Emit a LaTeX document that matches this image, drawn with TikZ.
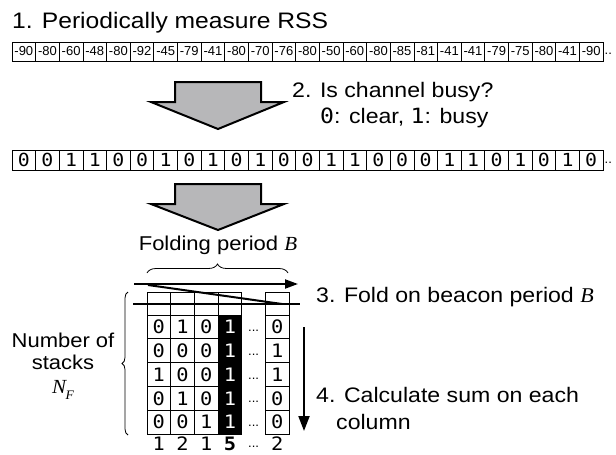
\documentclass[tikz,border=0pt]{standalone}
\usepackage{fontspec}
\setmainfont{Liberation Sans}[FakeStretch=1.1]
\newfontfamily\rssfont{Liberation Sans}
\newfontfamily\monof{DejaVu Sans Mono}[FakeStretch=1.1]
\newfontfamily\serifit{Liberation Serif}[FakeStretch=1.05]
\usetikzlibrary{decorations.pathreplacing,arrows.meta}
\definecolor{arrowgray}{RGB}{183,183,185}
\begin{document}
\begin{tikzpicture}[x=1pt,y=-1pt,
  rsscell/.style={draw, line width=0.7pt, minimum width=23.64pt, minimum height=19pt, inner sep=0pt, font=\rssfont\fontsize{13}{14}\selectfont},
  bitcell/.style={draw, line width=0.7pt, minimum width=23.64pt, minimum height=20pt, inner sep=0pt, font=\monof\fontsize{18}{19}\selectfont},
  gridcell/.style={draw, line width=0.8pt, minimum width=23.7pt, minimum height=23.8pt, inner sep=0pt, font=\monof\fontsize{18.5}{19}\selectfont},
  headcell/.style={draw, line width=0.8pt, minimum width=23.7pt, minimum height=23pt, inner sep=0pt},
  darkcell/.style={gridcell, fill=black, text=white},
  sumlabel/.style={inner sep=0pt, font=\monof\fontsize{18.5}{19}\selectfont},
  dotslabel/.style={inner sep=0pt, font=\rssfont\fontsize{13}{14}\selectfont},
  steplabel/.style={inner sep=0pt, anchor=base west, font=\fontsize{21}{24}\selectfont},
  blockarrow/.style={draw, line width=2pt, fill=arrowgray, line join=miter},
  foldline/.style={line width=2pt},
  bracestyle/.style={decorate, line width=0.8pt}
]
\useasboundingbox (0,0) rectangle (616,455);

% Step 1
\node[steplabel, font=\fontsize{22.4}{25}\selectfont] (t1) at (12,28) {1. Periodically measure RSS};
\foreach \v [count=\i] in {-90,-80,-60,-48,-80,-92,-45,-79,-41,-80,-70,-76,-80,-50,-60,-80,-85,-81,-41,-41,-79,-75,-80,-41,-90}
  \node[rsscell] (r\i) at ({12+(\i-0.5)*23.64},51.5) {\v};
\node[dotslabel, anchor=west] (rdots) at (604.5,54) {..};

% Arrow 1 and step 2
\draw[blockarrow] (175,82) -- (261,82) -- (261,102) -- (284,102) -- (218,129) -- (151,102) -- (175,102) -- cycle;
\node[steplabel] (t2) at (292,97) {2. Is channel busy?};
\node[steplabel] (t2b) at (320,123) {{\monof 0}: clear, {\monof 1}: busy};

% Binary row
\foreach \v [count=\i] in {0,0,1,1,0,0,1,0,1,0,1,0,0,1,1,0,0,0,1,1,0,1,0,1,0}
  \node[bitcell] (b\i) at ({12+(\i-0.5)*23.64},160) {\v};
\node[dotslabel, anchor=west] (bdots) at (604.5,163) {..};

% Arrow 2
\draw[blockarrow] (175,184) -- (261,184) -- (261,204) -- (284,204) -- (218,230) -- (151,204) -- (175,204) -- cycle;

% Folding period
\node[inner sep=0pt, anchor=base, font=\fontsize{20}{23}\selectfont] (fp) at (218,250) {Folding period {\serifit\itshape B}};
\draw[bracestyle, decoration={brace, amplitude=9pt}] (147,273) -- (288,273);

% Grid header
\foreach \j/\x in {1/158.85,2/182.55,3/206.25,4/229.95,6/277.35}
  \node[headcell] (h\j) at (\x,303.5) {};

% Grid data
\foreach \row [count=\k] in {{0,1,0,1,0},{0,0,0,1,1},{1,0,0,1,1},{0,1,0,1,0},{0,0,1,1,0}} {
  \foreach \v [count=\j] in \row {
    \ifnum\j=5
      \node[gridcell] (g\k-6) at (277.35,{315+(\k-0.5)*23.8}) {\v};
    \else
      \ifnum\j=4
        \node[darkcell] (g\k-\j) at ({147+(\j-0.5)*23.7},{315+(\k-0.5)*23.8}) {\v};
      \else
        \node[gridcell] (g\k-\j) at ({147+(\j-0.5)*23.7},{315+(\k-0.5)*23.8}) {\v};
      \fi
    \fi
  }
  \node[dotslabel] (gd\k) at (253.65,{315+(\k-0.5)*23.8+4}) {...};
}

% Sums
\node[sumlabel] (s1) at (158.85,444) {1};
\node[sumlabel] (s2) at (182.55,444) {2};
\node[sumlabel] (s3) at (206.25,444) {1};
\node[sumlabel, font=\monof\bfseries\fontsize{18.5}{19}\selectfont] (s4) at (229.95,444) {5};
\node[dotslabel] (s5) at (253.65,447) {...};
\node[sumlabel] (s6) at (277.35,444) {2};

% Fold lines
\coordinate (fa) at (134,284);
\coordinate (fb) at (298,284);
\coordinate (fc) at (148,285);
\coordinate (fd) at (282,304);
\coordinate (fe) at (133,304);
\coordinate (ff) at (300,304);
\draw[foldline, -{Triangle[length=13pt,width=9pt]}] (fa) -- (fb);
\draw[foldline] (fc) -- (fd);
\draw[foldline] (fe) -- (ff);
\node[steplabel] (t3) at (316,302) {3. Fold on beacon period {\serifit\itshape B}};

% Sum arrow
\coordinate (va) at (304,327);
\coordinate (vb) at (304,431);
\draw[foldline, -{Triangle[length=15pt,width=11pt]}] (va) -- (vb);
\node[steplabel] (t4) at (316,402) {4. Calculate sum on each};
\node[steplabel] (t4b) at (336,429) {column};

% Number of stacks
\draw[bracestyle, decoration={brace, amplitude=6pt}] (128,435) -- (128,292);
\node[inner sep=0pt, font=\fontsize{20}{22}\selectfont] (ns1) at (63,340) {Number of};
\node[inner sep=0pt, font=\fontsize{20}{22}\selectfont] (ns2) at (63,362) {stacks};
\node[inner sep=0pt, font=\fontsize{20}{22}\selectfont] (ns3) at (63,390) {{\serifit\itshape N\kern-0.5pt\raisebox{-0.3em}{\fontsize{13}{13}\selectfont F}}};
\end{tikzpicture}
\end{document}
